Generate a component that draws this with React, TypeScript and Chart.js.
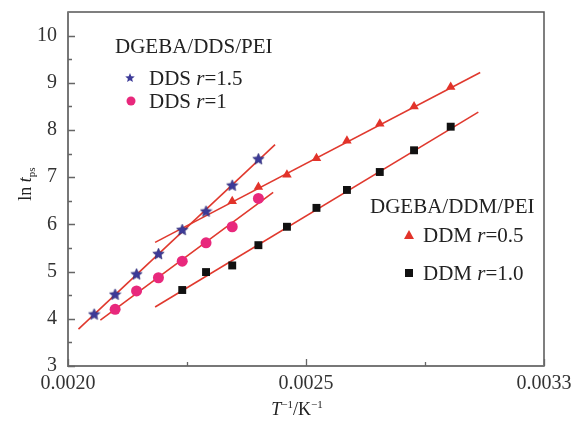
import React, { useEffect, useRef } from 'react';
import { Chart, registerables } from 'chart.js';

Chart.register(...registerables);

// ---- data ----
const xTickValues = [0.002, 0.00225, 0.0025, 0.00275, 0.003];
const xTickLabels = ['0.0020', '', '0.0025', '', '0.0033'];
const yTickValues = [3, 3.5, 4, 4.5, 5, 5.5, 6, 6.5, 7, 7.5, 8, 8.5, 9, 9.5, 10];

const ddsR15X = [0.002055, 0.002099, 0.002144, 0.00219, 0.00224, 0.00229, 0.002345, 0.0024];
const ddsR15Y = [4.1, 4.52, 4.95, 5.38, 5.89, 6.28, 6.83, 7.39];

const ddsR1X = [0.002099, 0.002144, 0.00219, 0.00224, 0.00229, 0.002345, 0.0024];
const ddsR1Y = [4.2, 4.59, 4.87, 5.22, 5.61, 5.95, 6.55];

const ddmR05X = [0.002345, 0.0024, 0.00246, 0.002522, 0.002586, 0.002655, 0.002727, 0.002804];
const ddmR05Y = [6.49, 6.79, 7.05, 7.4, 7.77, 8.13, 8.5, 8.91];

const ddmR10X = [0.00224, 0.00229, 0.002345, 0.0024, 0.00246, 0.002522, 0.002586, 0.002655, 0.002727, 0.002804];
const ddmR10Y = [4.61, 4.99, 5.13, 5.56, 5.95, 6.35, 6.73, 7.11, 7.57, 8.07];

// fitted lines (end points)
const fitR15X = [0.002022, 0.002435];
const fitR15Y = [3.78, 7.69];
const fitR1X = [0.002068, 0.002431];
const fitR1Y = [3.97, 6.68];
const fitDdm05X = [0.002183, 0.002866];
const fitDdm05Y = [5.62, 9.22];
const fitDdm10X = [0.002183, 0.002862];
const fitDdm10Y = [4.25, 8.38];

const STAR = '#3c3a98';
const PINK = '#e8287c';
const RED = '#e2332a';
const BLACK = '#111111';
const LINE = '#e0392e';
const SERIF = '"Liberation Serif", "Times New Roman", serif';

const pts = (xs: number[], ys: number[]) => xs.map((x, i) => ({ x, y: ys[i] }));

function starPath(ctx: CanvasRenderingContext2D, cx: number, cy: number, ro: number, ri: number) {
  ctx.beginPath();
  for (let i = 0; i < 10; i++) {
    const r = i % 2 === 0 ? ro : ri;
    const a = -Math.PI / 2 + (i * Math.PI) / 5;
    const px = cx + r * Math.cos(a);
    const py = cy + r * Math.sin(a);
    if (i === 0) ctx.moveTo(px, py);
    else ctx.lineTo(px, py);
  }
  ctx.closePath();
}

function makeStar(size: number) {
  const c = document.createElement('canvas');
  c.width = size;
  c.height = size;
  const ctx = c.getContext('2d')!;
  starPath(ctx, size / 2, size / 2 + 0.5, size / 2 - 0.5, size / 4.6);
  ctx.fillStyle = STAR;
  ctx.fill();
  ctx.strokeStyle = '#2a2870';
  ctx.lineWidth = 0.6;
  ctx.stroke();
  return c;
}

function drawRich(
  ctx: CanvasRenderingContext2D,
  parts: { t: string; italic?: boolean; size: number; dy?: number }[],
  x: number,
  y: number
) {
  let cx = x;
  for (const p of parts) {
    ctx.font = `${p.italic ? 'italic ' : ''}${p.size}px ${SERIF}`;
    ctx.fillText(p.t, cx, y + (p.dy || 0));
    cx += ctx.measureText(p.t).width;
  }
  return cx - x;
}

function measureRich(ctx: CanvasRenderingContext2D, parts: { t: string; italic?: boolean; size: number }[]) {
  let w = 0;
  for (const p of parts) {
    ctx.font = `${p.italic ? 'italic ' : ''}${p.size}px ${SERIF}`;
    w += ctx.measureText(p.t).width;
  }
  return w;
}

const decorPlugin = {
  id: 'decor',
  afterDraw(chart: any) {
    const { ctx, chartArea, scales } = chart;
    const { left, right, top, bottom } = chartArea;
    ctx.save();
    // frame
    ctx.strokeStyle = '#555';
    ctx.lineWidth = 1.5;
    ctx.strokeRect(left, top, right - left, bottom - top);
    ctx.strokeStyle = '#777';
    ctx.lineWidth = 2;
    ctx.beginPath();
    ctx.moveTo(left, top);
    ctx.lineTo(left, bottom);
    ctx.lineTo(right, bottom);
    ctx.stroke();
    // inside ticks
    ctx.strokeStyle = '#666';
    ctx.lineWidth = 1.3;
    ctx.beginPath();
    for (const t of scales.y.ticks) {
      const py = Math.round(scales.y.getPixelForValue(t.value)) + 0.5;
      const len = Number.isInteger(t.value) ? 7 : 4;
      ctx.moveTo(left, py);
      ctx.lineTo(left + len, py);
    }
    scales.x.ticks.forEach((t: any, i: number) => {
      const px = Math.round(scales.x.getPixelForValue(t.value)) + 0.5;
      const len = i % 2 === 0 ? 7 : 4;
      ctx.moveTo(px, bottom);
      ctx.lineTo(px, bottom - len);
    });
    ctx.stroke();

    // legends
    ctx.fillStyle = '#222';
    ctx.textBaseline = 'alphabetic';
    ctx.textAlign = 'left';
    const LF = 21;
    ctx.font = `${LF}px ${SERIF}`;
    ctx.fillText('DGEBA/DDS/PEI', 115, 53);
    ctx.fillText('DGEBA/DDM/PEI', 370, 213);

    // star legend
    starPath(ctx, 130, 78, 5, 2.2);
    ctx.fillStyle = STAR;
    ctx.fill();
    ctx.fillStyle = '#222';
    drawRich(ctx, [{ t: 'DDS ', size: LF }, { t: 'r', italic: true, size: LF }, { t: '=1.5', size: LF }], 149, 85);
    // circle legend
    ctx.beginPath();
    ctx.arc(131, 101, 4.5, 0, Math.PI * 2);
    ctx.fillStyle = PINK;
    ctx.fill();
    ctx.fillStyle = '#222';
    drawRich(ctx, [{ t: 'DDS ', size: LF }, { t: 'r', italic: true, size: LF }, { t: '=1', size: LF }], 149, 108);
    // triangle legend
    ctx.beginPath();
    ctx.moveTo(409, 230);
    ctx.lineTo(414, 239);
    ctx.lineTo(404, 239);
    ctx.closePath();
    ctx.fillStyle = RED;
    ctx.fill();
    ctx.fillStyle = '#222';
    drawRich(ctx, [{ t: 'DDM ', size: LF }, { t: 'r', italic: true, size: LF }, { t: '=0.5', size: LF }], 423, 242);
    // square legend
    ctx.fillStyle = BLACK;
    ctx.fillRect(405, 269, 8, 8);
    ctx.fillStyle = '#222';
    drawRich(ctx, [{ t: 'DDM ', size: LF }, { t: 'r', italic: true, size: LF }, { t: '=1.0', size: LF }], 423, 280);

    // x title
    const AF = 18;
    const xParts = [
      { t: 'T', italic: true, size: AF },
      { t: '\u22121', size: 11, dy: -7 },
      { t: '/K', size: AF },
      { t: '\u22121', size: 11, dy: -7 },
    ];
    const xw = measureRich(ctx, xParts);
    drawRich(ctx, xParts, 297 - xw / 2, 415);

    // y title
    const yParts = [
      { t: 'ln ', size: AF },
      { t: 't', italic: true, size: AF },
      { t: 'ps', size: 11, dy: 4 },
    ];
    ctx.translate(31, 184);
    ctx.rotate(-Math.PI / 2);
    const yw = measureRich(ctx, yParts);
    drawRich(ctx, yParts, -yw / 2, 0);
    ctx.restore();
  },
};

export default function App() {
  const ref = useRef<HTMLCanvasElement | null>(null);

  useEffect(() => {
    const canvas = ref.current;
    if (!canvas) return;
    const star = makeStar(13);
    const lineDs = (xs: number[], ys: number[]) => ({
      type: 'line' as const,
      data: pts(xs, ys),
      borderColor: LINE,
      borderWidth: 1.6,
      pointRadius: 0,
      showLine: true,
      fill: false,
      order: 2,
    });
    const chart = new Chart(canvas, {
      type: 'scatter',
      data: {
        datasets: [
          {
            label: 'DDS r=1.5',
            data: pts(ddsR15X, ddsR15Y),
            pointStyle: star as any,
            pointRadius: 6,
            backgroundColor: STAR,
            borderColor: STAR,
            order: 1,
          },
          {
            label: 'DDS r=1',
            data: pts(ddsR1X, ddsR1Y),
            pointStyle: 'circle',
            pointRadius: 5.5,
            backgroundColor: PINK,
            borderColor: PINK,
            borderWidth: 0,
            order: 1,
          },
          {
            label: 'DDM r=0.5',
            data: pts(ddmR05X, ddmR05Y),
            pointStyle: 'triangle',
            pointRadius: 5.5,
            backgroundColor: RED,
            borderColor: RED,
            borderWidth: 0,
            order: 1,
          },
          {
            label: 'DDM r=1.0',
            data: pts(ddmR10X, ddmR10Y),
            pointStyle: 'rect',
            pointRadius: 5.6,
            backgroundColor: BLACK,
            borderColor: BLACK,
            borderWidth: 0,
            order: 1,
          },
          lineDs(fitR15X, fitR15Y) as any,
          lineDs(fitR1X, fitR1Y) as any,
          lineDs(fitDdm05X, fitDdm05Y) as any,
          lineDs(fitDdm10X, fitDdm10Y) as any,
        ],
      },
      options: {
        responsive: false,
        animation: false,
        devicePixelRatio: 1,
        layout: { padding: { top: 12, right: 28, left: 0, bottom: 0 } },
        plugins: { legend: { display: false }, tooltip: { enabled: false } },
        scales: {
          x: {
            type: 'linear',
            min: 0.002,
            max: 0.003,
            grid: { display: false, drawTicks: false },
            border: { display: false },
            afterBuildTicks: (s: any) => {
              s.ticks = xTickValues.map((v) => ({ value: v }));
            },
            afterFit: (s: any) => {
              s.height = 56;
              s.paddingLeft = 0;
              s.paddingRight = 0;
            },
            ticks: {
              autoSkip: false,
              maxRotation: 0,
              padding: 6,
              color: '#333',
              font: { family: SERIF, size: 20 },
              callback: (_v: any, i: number) => xTickLabels[i],
            },
          },
          y: {
            type: 'linear',
            min: 3,
            max: 10.5,
            grid: { display: false, drawTicks: false },
            border: { display: false },
            afterBuildTicks: (s: any) => {
              s.ticks = yTickValues.map((v) => ({ value: v }));
            },
            afterFit: (s: any) => {
              s.width = 68;
              s.paddingTop = 0;
              s.paddingBottom = 0;
            },
            ticks: {
              autoSkip: false,
              padding: 11,
              color: '#333',
              font: { family: SERIF, size: 20 },
              callback: (v: any) => (Number.isInteger(v) ? String(v) : ''),
            },
          },
        },
      },
      plugins: [decorPlugin],
    });
    return () => chart.destroy();
  }, []);

  return (
    <canvas
      ref={ref}
      width={572}
      height={422}
      style={{ position: 'fixed', left: 0, top: 0, width: 572, height: 422 }}
    />
  );
}
